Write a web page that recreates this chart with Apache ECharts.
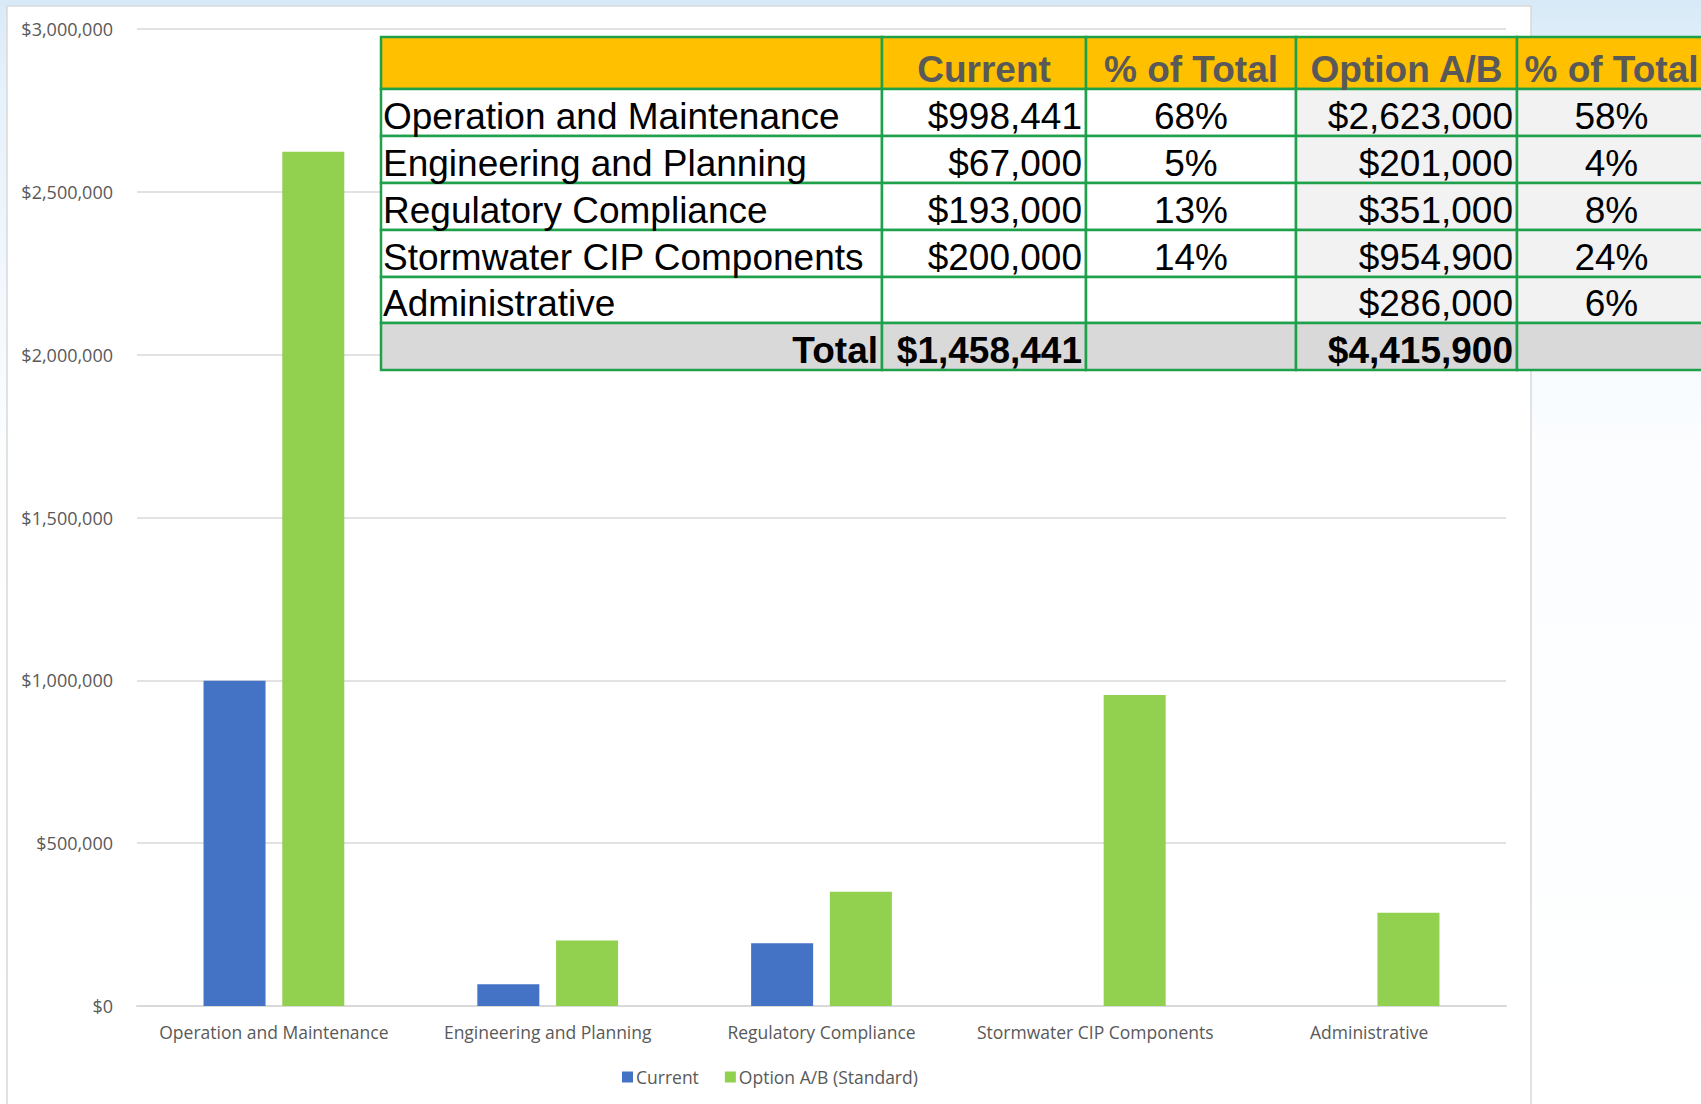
<!DOCTYPE html>
<html>
<head>
<meta charset="utf-8">
<title>Stormwater budget - current vs option A/B</title>
<script src="https://cdn.jsdelivr.net/npm/echarts@6/dist/echarts.min.js"></script>
<style>
  html, body { margin: 0; padding: 0; background: #fff; }
  #chart { width: 1701px; height: 1104px; }
</style>
</head>
<body>
<div id="chart"></div>
<script>
// chart data
const categories = [
  "Operation and Maintenance",
  "Engineering and Planning",
  "Regulatory Compliance",
  "Stormwater CIP Components",
  "Administrative"
];
const currentValues = [998441, 67000, 193000, null, null];
const optionValues = [2623000, 201000, 351000, 954900, 286000];
const yTicks = [0, 500000, 1000000, 1500000, 2000000, 2500000, 3000000];

// table data
const tableHeader = ["", "Current", "% of Total", "Option A/B", "% of Total"];
const tableCurrent = [998441, 67000, 193000, 200000, null];
const tableCurrentPct = ["68%", "5%", "13%", "14%", ""];
const tableOption = [2623000, 201000, 351000, 954900, 286000];
const tableOptionPct = ["58%", "4%", "8%", "24%", "6%"];
const totalCurrent = 1458441;
const totalOption = 4415900;

const money = v => (v == null ? "" : "$" + v.toLocaleString("en-US"));

// table layout
const colX = [381, 882, 1086, 1296, 1517, 1706];
const rowY = [37, 89, 136, 183, 230, 277, 323, 370];
const green = "#1fa04b";
const tableFont = "'Liberation Sans', Arial, sans-serif";

function cellText(text, col, row, opts) {
  opts = opts || {};
  const x0 = colX[col], x1 = colX[col + 1];
  let x, align;
  if (opts.align === "left") { x = x0 + 2; align = "left"; }
  else if (opts.align === "right") { x = x1 - 4; align = "right"; }
  else { x = (x0 + x1) / 2; align = "center"; }
  return {
    type: "text",
    z: 102,
    style: {
      text: text,
      x: x,
      y: rowY[row + 1] - 20,
      align: align,
      verticalAlign: "middle",
      fontFamily: tableFont,
      fontSize: 37,
      fontWeight: opts.bold ? "bold" : "normal",
      fill: opts.color || "#000"
    }
  };
}

function buildTable() {
  const els = [];
  const nRows = rowY.length - 1;
  for (let r = 0; r < nRows; r++) {
    for (let c = 0; c < colX.length - 1; c++) {
      let fill = "#fff";
      if (r === 0) fill = "#ffc000";
      else if (r === nRows - 1) fill = "#d9d9d9";
      else if (c >= 3) fill = "#f2f2f2";
      els.push({
        type: "rect",
        z: 100,
        shape: { x: colX[c], y: rowY[r], width: colX[c + 1] - colX[c], height: rowY[r + 1] - rowY[r] },
        style: { fill: fill, stroke: green, lineWidth: 2.5 }
      });
    }
  }
  tableHeader.forEach((h, c) => {
    if (h) els.push(cellText(h, c, 0, { bold: true, color: "#595959" }));
  });
  categories.forEach((name, i) => {
    const r = i + 1;
    els.push(cellText(name, 0, r, { align: "left" }));
    if (tableCurrent[i] != null) els.push(cellText(money(tableCurrent[i]), 1, r, { align: "right" }));
    if (tableCurrentPct[i]) els.push(cellText(tableCurrentPct[i], 2, r));
    els.push(cellText(money(tableOption[i]), 3, r, { align: "right" }));
    els.push(cellText(tableOptionPct[i], 4, r));
  });
  const tr = nRows - 1;
  els.push(cellText("Total", 0, tr, { align: "right", bold: true }));
  els.push(cellText(money(totalCurrent), 1, tr, { align: "right", bold: true }));
  els.push(cellText(money(totalOption), 3, tr, { align: "right", bold: true }));
  return els;
}

const chart = echarts.init(document.getElementById("chart"), null, { renderer: "svg" });

const labelFont = "'Open Sans', 'Noto Sans', sans-serif";

const option = {
  animation: false,
  backgroundColor: "#fff",
  graphic: [
    {
      type: "rect",
      z: -20,
      shape: { x: 0, y: 0, width: 1701, height: 1104 },
      style: {
        fill: new echarts.graphic.LinearGradient(0, 0, 0, 1, [
          { offset: 0, color: "#d8eaf8" },
          { offset: 0.08, color: "#e6f1fa" },
          { offset: 0.4, color: "#fbfdff" },
          { offset: 1, color: "#ffffff" }
        ])
      }
    },
    {
      type: "rect",
      z: -10,
      shape: { x: 7, y: 6, width: 1524, height: 1110 },
      style: { fill: "#fff", stroke: "#d9d9d9", lineWidth: 1.5 }
    }
  ].concat(buildTable()),
  grid: {
    left: 137,
    right: 195,
    top: 29,
    bottom: 98
  },
  legend: {
    left: 617,
    top: 1063,
    icon: "rect",
    itemWidth: 11,
    itemHeight: 11,
    itemGap: 26,
    textStyle: { color: "#595959", fontSize: 17.5, fontFamily: labelFont, padding: [0, 0, 0, -2] },
    data: ["Current", "Option A/B (Standard)"]
  },
  xAxis: {
    type: "category",
    data: categories,
    axisTick: { show: false },
    axisLine: { lineStyle: { color: "#d9d9d9", width: 2 } },
    axisLabel: {
      color: "#595959",
      fontSize: 17.5,
      fontFamily: labelFont,
      margin: 17,
      interval: 0
    }
  },
  yAxis: {
    type: "value",
    min: yTicks[0],
    max: yTicks[yTicks.length - 1],
    interval: yTicks[1] - yTicks[0],
    axisLine: { show: false },
    axisTick: { show: false },
    splitLine: { lineStyle: { color: "#d9d9d9", width: 1.5 } },
    axisLabel: {
      color: "#595959",
      fontSize: 18,
      fontFamily: labelFont,
      margin: 24,
      formatter: v => "$" + v.toLocaleString("en-US")
    }
  },
  series: [
    {
      name: "Current",
      type: "bar",
      data: currentValues,
      barWidth: 62,
      barGap: "27%",
      itemStyle: { color: "#4472c4" }
    },
    {
      name: "Option A/B (Standard)",
      type: "bar",
      data: optionValues,
      barWidth: 62,
      itemStyle: { color: "#92d050" }
    }
  ]
};

chart.setOption(option);
</script>
</body>
</html>
